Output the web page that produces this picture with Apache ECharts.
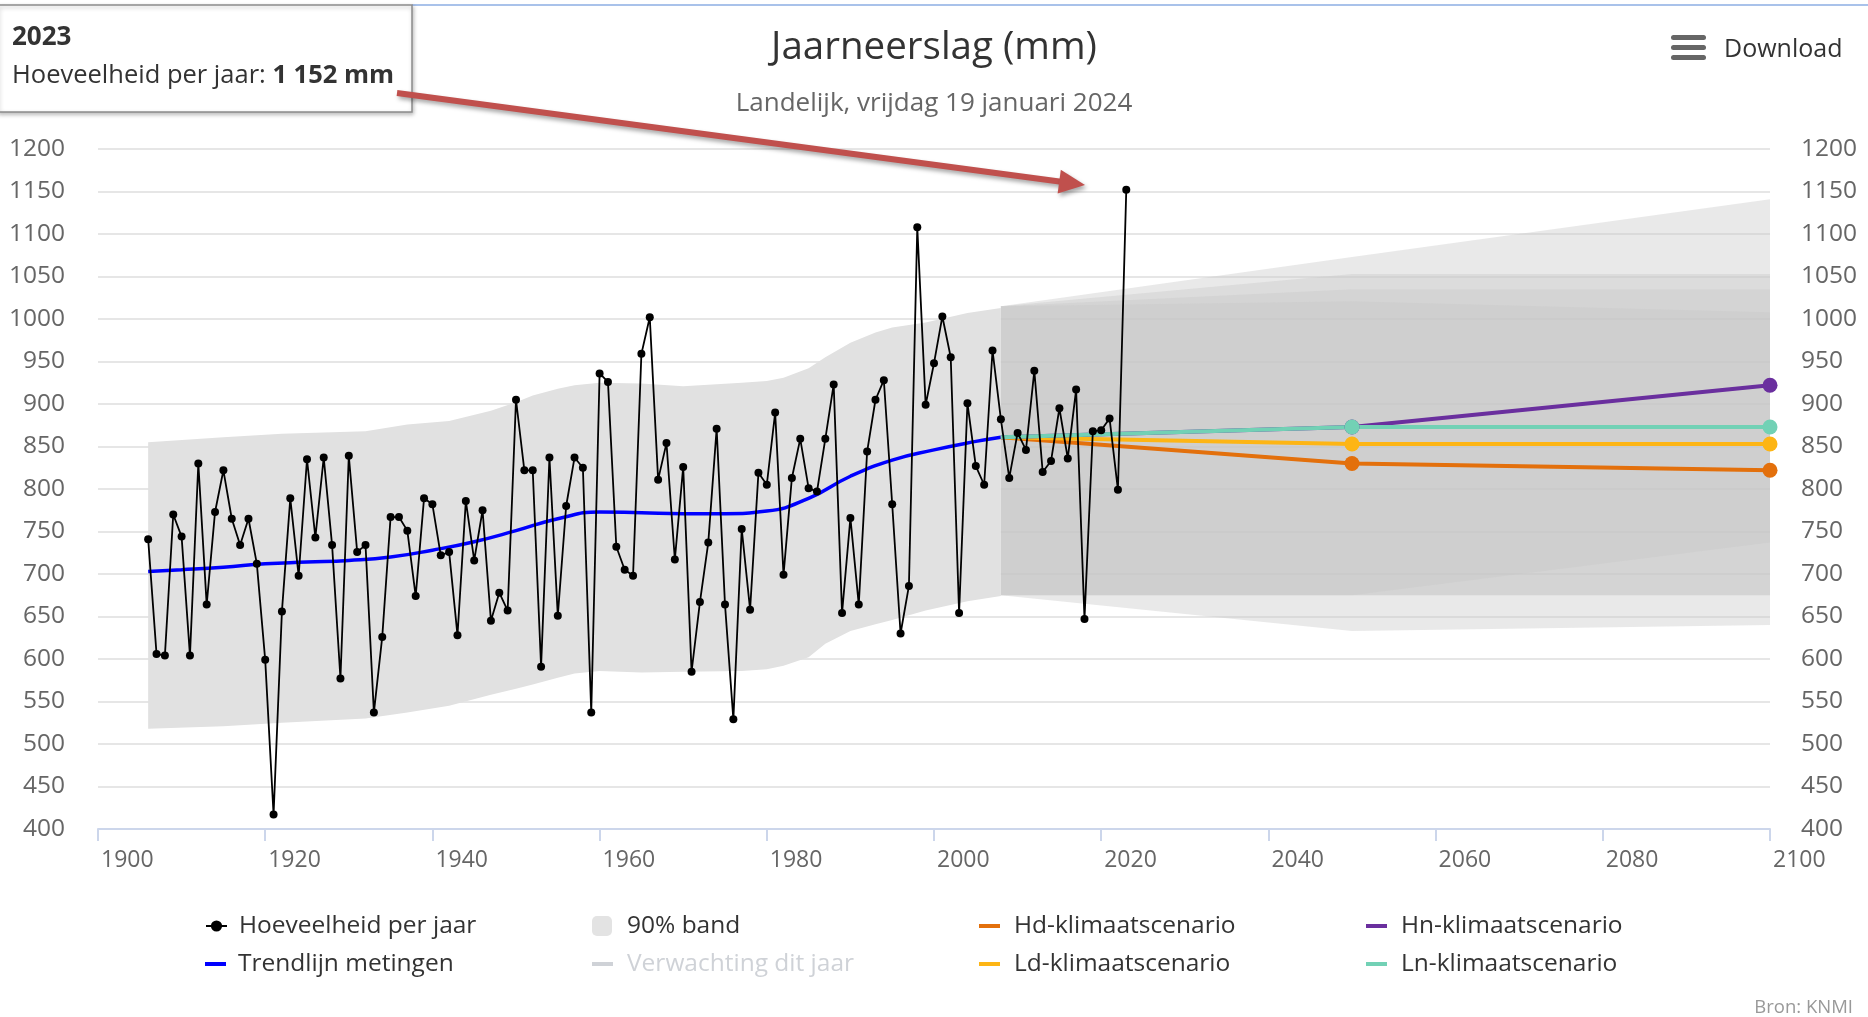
<!DOCTYPE html>
<html>
<head>
<meta charset="utf-8">
<title>Jaarneerslag (mm)</title>
<script src="https://cdn.jsdelivr.net/npm/echarts@6/dist/echarts.min.js"></script>
<style>
  html, body { margin: 0; padding: 0; background: #fff; }
  #chart { width: 1868px; height: 1017px; }
</style>
</head>
<body>
<div id="chart"></div>
<script>
// jaarlijkse neerslag, landelijk gemiddelde (mm), vanaf 1906
const firstYear = 1906
const rainfall = [
  741, 606, 604, 770, 744, 604, 830, 664, 773, 822,
  765, 734, 765, 712, 599, 417, 656, 789, 698, 835,
  743, 837, 734, 577, 839, 726, 734, 537, 626, 767,
  767, 751, 674, 789, 782, 722, 726, 628, 786, 716,
  775, 645, 678, 657, 905, 822, 822, 591, 837, 651,
  780, 837, 825, 537, 936, 926, 732, 705, 698, 959,
  1002, 811, 854, 717, 826, 585, 667, 737, 871, 664,
  529, 753, 658, 819, 805, 890, 699, 813, 859, 801,
  797, 859, 923, 654, 766, 664, 844, 905, 928, 782,
  630, 686, 1108, 899, 948, 1003, 955, 654, 901, 827,
  805, 963, 882, 813, 866, 846, 939, 820, 833, 895,
  836, 917, 647, 868, 869, 883, 799, 1152
]

const trendYears = [1906, 1910, 1915, 1920, 1925, 1930, 1935, 1940, 1945, 1950, 1955,
  1960, 1965, 1970, 1975, 1980, 1985, 1990, 1995, 2000, 2005, 2008]
const trendValues = [703, 705, 708, 712, 714, 716, 720, 728, 738, 751, 765,
  773, 772, 771, 771, 774, 789, 815, 834, 846, 856, 861]

const bandYears = [1906, 1915, 1922, 1932, 1937, 1942, 1947, 1950, 1952, 1955, 1957, 1960, 1965,
  1970, 1977, 1980, 1982, 1985, 1987, 1990, 1993, 1995, 1999, 2004, 2008]
const bandHigh = [855, 861, 865, 868, 876, 880, 892, 902, 910, 918, 922, 925, 924,
  921, 925, 927, 931, 942, 955, 972, 984, 990, 996, 1007, 1013]
const bandLow = [518, 521, 525, 530, 537, 545, 558, 565, 570, 578, 583, 586, 584,
  585, 586, 588, 592, 602, 618, 633, 641, 646, 657, 668, 674]

const scenarioYears = [2008, 2050, 2100]
const hdValues = [861, 830, 822]
const ldValues = [861, 853, 853]
const hnValues = [861, 873, 922]
const lnValues = [861, 873, 873]

const hdLow = [675, 633, 640]
const hdHigh = [1015, 1021, 1008]
const ldLow = [675, 675, 675]
const ldHigh = [1015, 1035, 1035]
const lnLow = [675, 675, 675]
const lnHigh = [1015, 1053, 1053]
const hnLow = [675, 675, 737]
const hnHigh = [1015, 1073, 1141]

const yTicks = { min: 400, max: 1200, step: 50 }
const xTicks = { min: 1900, max: 2100, step: 20 }

const font = '"Open Sans", sans-serif'
const colors = {
  hd: '#e3700c',
  ld: '#fdb515',
  hn: '#6a2f9e',
  ln: '#72d1b5'
}

const chart = echarts.init(document.getElementById('chart'))

function bandSeries(xs, low, high, color) {
  return {
    name: '90% band',
    type: 'custom',
    silent: true,
    data: xs.map((x, i) => [x, low[i], high[i]]),
    encode: { x: 0, y: [1, 2] },
    renderItem(params, api) {
      if (params.dataIndexInside !== 0) return
      const top = xs.map((x, i) => api.coord([x, high[i]]))
      const bottom = xs.map((x, i) => api.coord([x, low[i]])).reverse()
      return {
        type: 'polygon',
        shape: { points: top.concat(bottom) },
        style: { fill: color }
      }
    }
  }
}

function scenarioSeries(name, values, color) {
  return {
    name: name,
    type: 'line',
    data: scenarioYears.map((y, i) => i === 0 ? { value: [y, values[i]], symbol: 'none' } : [y, values[i]]),
    symbol: 'circle',
    symbolSize: 15,
    itemStyle: { color: color },
    lineStyle: { color: color, width: 4 },
    silent: true
  }
}

const legendCols = [205, 592, 979, 1366]
const legendRows = [926, 964]

function legendItem(name, col, row, opts) {
  return Object.assign({
    data: [Object.assign({ name: name }, opts.item || {})],
    left: legendCols[col],
    top: legendRows[row] - 15,
    padding: 0,
    itemWidth: 21,
    itemHeight: 4,
    icon: 'rect',
    selectedMode: false,
    textStyle: {
      fontFamily: font,
      fontSize: 24.5,
      color: '#333',
      lineHeight: 30,
      padding: [0, 0, 0, opts.pad || 8]
    }
  }, opts.legend || {})
}

const bandScenario = 'rgba(200,200,200,0.4)'

// pijl van de tooltip naar het record van 2023
const arrowTail = [397, 93]
const arrowTip = [1085, 185]
const dx = arrowTip[0] - arrowTail[0]
const dy = arrowTip[1] - arrowTail[1]
const len = Math.sqrt(dx * dx + dy * dy)
const ux = dx / len
const uy = dy / len
const headBase = [arrowTip[0] - 26 * ux, arrowTip[1] - 26 * uy]
const arrowShadow = { shadowBlur: 4, shadowColor: 'rgba(0,0,0,0.35)', shadowOffsetX: 2, shadowOffsetY: 3 }

const plain = v => String(v)

chart.setOption({
  animation: false,
  title: [
    {
      text: 'Jaarneerslag (mm)',
      left: 'center',
      top: 24,
      padding: 0,
      textStyle: { fontFamily: font, fontSize: 38.5, fontWeight: 'normal', color: '#333', lineHeight: 48 }
    },
    {
      text: 'Landelijk, vrijdag 19 januari 2024',
      left: 'center',
      top: 88,
      padding: 0,
      textStyle: { fontFamily: font, fontSize: 26, fontWeight: 'normal', color: '#666', lineHeight: 32 }
    }
  ],
  grid: { left: 98, right: 98, top: 149, bottom: 188, outerBoundsMode: 'none' },
  xAxis: {
    type: 'value',
    min: xTicks.min,
    max: xTicks.max,
    interval: xTicks.step,
    axisLine: { lineStyle: { color: '#ccd6eb', width: 2 } },
    axisTick: { show: true, length: 12, lineStyle: { color: '#ccd6eb', width: 2 } },
    axisLabel: { fontFamily: font, fontSize: 23, color: '#666', align: 'left', margin: 20, padding: [0, 0, 0, 3], formatter: plain },
    splitLine: { show: false }
  },
  yAxis: [
    {
      type: 'value',
      position: 'left',
      min: yTicks.min,
      max: yTicks.max,
      interval: yTicks.step,
      axisLine: { show: false },
      axisTick: { show: false },
      axisLabel: { fontFamily: font, fontSize: 24.5, color: '#666', margin: 33, formatter: plain },
      splitLine: { lineStyle: { color: '#e6e6e6', width: 2 } }
    },
    {
      type: 'value',
      position: 'right',
      min: yTicks.min,
      max: yTicks.max,
      interval: yTicks.step,
      axisLine: { show: false },
      axisTick: { show: false },
      axisLabel: { fontFamily: font, fontSize: 24.5, color: '#666', margin: 31, formatter: plain },
      splitLine: { show: false }
    }
  ],
  legend: [
    legendItem('Hoeveelheid per jaar', 0, 0, { legend: { icon: null, itemHeight: 14 }, pad: 7 }),
    legendItem('Trendlijn metingen', 0, 1, { pad: 7 }),
    legendItem('90% band', 1, 0, {
      legend: { icon: 'roundRect', itemWidth: 20, itemHeight: 20 },
      item: { itemStyle: { color: '#e3e3e3' } },
      pad: 10
    }),
    legendItem('Verwachting dit jaar', 1, 1, { legend: { selected: { 'Verwachting dit jaar': false } }, pad: 9 }),
    legendItem('Hd-klimaatscenario', 2, 0, { pad: 9 }),
    legendItem('Ld-klimaatscenario', 2, 1, { pad: 9 }),
    legendItem('Hn-klimaatscenario', 3, 0, { pad: 9 }),
    legendItem('Ln-klimaatscenario', 3, 1, { pad: 9 })
  ],
  series: [
    bandSeries(scenarioYears, hnLow, hnHigh, bandScenario),
    bandSeries(scenarioYears, lnLow, lnHigh, bandScenario),
    bandSeries(scenarioYears, ldLow, ldHigh, bandScenario),
    bandSeries(scenarioYears, hdLow, hdHigh, bandScenario),
    bandSeries(bandYears, bandLow, bandHigh, '#e1e1e1'),
    {
      name: 'Verwachting dit jaar',
      type: 'line',
      data: [],
      itemStyle: { color: '#bbb' }
    },
    {
      name: 'Trendlijn metingen',
      type: 'line',
      data: trendYears.map((y, i) => [y, trendValues[i]]),
      smooth: true,
      symbol: 'none',
      itemStyle: { color: '#0000ff' },
      lineStyle: { color: '#0000ff', width: 3.5 },
      silent: true
    },
    scenarioSeries('Hd-klimaatscenario', hdValues, colors.hd),
    scenarioSeries('Ld-klimaatscenario', ldValues, colors.ld),
    scenarioSeries('Hn-klimaatscenario', hnValues, colors.hn),
    scenarioSeries('Ln-klimaatscenario', lnValues, colors.ln),
    {
      name: 'Hoeveelheid per jaar',
      type: 'line',
      data: rainfall.map((v, i) => [firstYear + i, v]),
      symbol: 'circle',
      symbolSize: 8,
      itemStyle: { color: '#000' },
      lineStyle: { color: '#000', width: 1.8 },
      silent: true
    }
  ],
  graphic: [
    {
      type: 'line',
      shape: { x1: 412, y1: 5, x2: 1868, y2: 5 },
      style: { stroke: '#a9c2ea', lineWidth: 2 }
    },
    {
      type: 'rect',
      shape: { x: -2, y: 5, width: 414, height: 107 },
      style: { fill: '#fff', stroke: '#8c8c8c', lineWidth: 1.5, shadowBlur: 4, shadowColor: 'rgba(0,0,0,0.25)', shadowOffsetX: 1, shadowOffsetY: 2 },
      z: 90
    },
    {
      type: 'text',
      x: 12,
      y: 38,
      style: { text: '2023', fontFamily: font, fontSize: 26, fontWeight: 'bold', fill: '#333', verticalAlign: 'middle' },
      z: 91
    },
    {
      type: 'text',
      x: 12,
      y: 76,
      style: {
        text: '{a|Hoeveelheid per jaar: }{b|1 152 mm}',
        verticalAlign: 'middle',
        rich: {
          a: { fontFamily: font, fontSize: 25.5, fill: '#333' },
          b: { fontFamily: font, fontSize: 25.5, fontWeight: 'bold', fill: '#333' }
        }
      },
      z: 91
    },
    {
      type: 'line',
      shape: { x1: arrowTail[0], y1: arrowTail[1], x2: headBase[0] + 2 * ux, y2: headBase[1] + 2 * uy },
      style: Object.assign({ stroke: '#c0504d', lineWidth: 6 }, arrowShadow),
      z: 95
    },
    {
      type: 'polygon',
      shape: {
        points: [
          arrowTip,
          [headBase[0] - 12 * uy, headBase[1] + 12 * ux],
          [headBase[0] + 12 * uy, headBase[1] - 12 * ux]
        ]
      },
      style: Object.assign({ fill: '#c0504d' }, arrowShadow),
      z: 95
    },
    { type: 'rect', shape: { x: 1671, y: 35, width: 35, height: 5, r: 2.5 }, style: { fill: '#666' } },
    { type: 'rect', shape: { x: 1671, y: 45, width: 35, height: 5, r: 2.5 }, style: { fill: '#666' } },
    { type: 'rect', shape: { x: 1671, y: 55, width: 35, height: 5, r: 2.5 }, style: { fill: '#666' } },
    {
      type: 'text',
      x: 1724,
      y: 50,
      style: { text: 'Download', fontFamily: font, fontSize: 25, fill: '#333', verticalAlign: 'middle' }
    },
    {
      type: 'text',
      x: 1853,
      y: 1008,
      style: { text: 'Bron: KNMI', fontFamily: font, fontSize: 18.5, fill: '#999', align: 'right', verticalAlign: 'middle' }
    }
  ]
})
</script>
</body>
</html>
